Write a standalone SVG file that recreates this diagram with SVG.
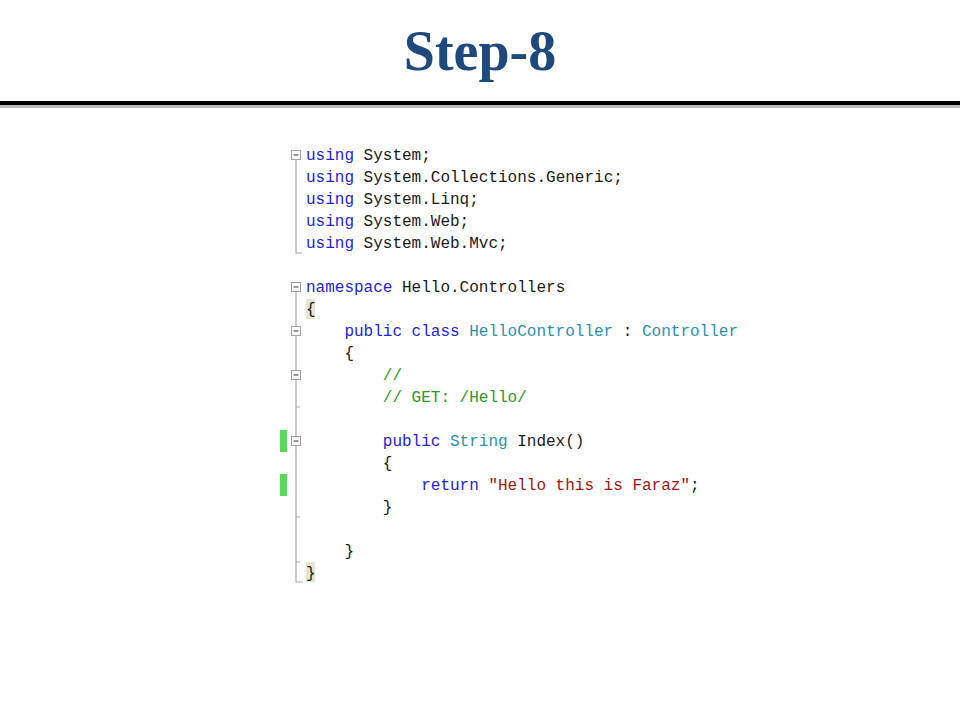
<svg xmlns="http://www.w3.org/2000/svg" width="960" height="720" viewBox="0 0 960 720">
<style>
.title{font-family:"Liberation Serif","Times New Roman",serif;font-weight:bold;font-size:56px;fill:#1F497D}
.code{font-family:"Liberation Mono","DejaVu Sans Mono",monospace;font-size:16px;fill:#1a1a1a}
.kw{fill:#2323DC}
.ty{fill:#2B91AF}
.cm{fill:#2E962E}
.st{fill:#A31515}
.gut{stroke:#A8A8A8;stroke-width:1.2;fill:none}
.box{stroke:#A0A0A0;stroke-width:1;fill:#FFFFFF}
.minus{stroke:#555555;stroke-width:1.2}
.chg{fill:#5CD65C}
.hl{fill:#E3E6D3}
</style>
<rect x="0" y="0" width="960" height="720" fill="#FFFFFF"/>
<g id="header">
<text class="title" x="480" y="70" text-anchor="middle">Step-8</text>
<rect x="0" y="105" width="960" height="3" fill="#A0A0A0" opacity="0.7"/>
<rect x="0" y="101" width="960" height="4" fill="#000000"/>
</g>
<g id="gutter">
<rect class="chg" x="280" y="430" width="7" height="22"/>
<rect class="chg" x="280" y="474" width="7" height="22"/>
<path class="gut" d="M296,160 V253 H302"/>
<path class="gut" d="M296,292 V326 M296,336 V370 M296,380 V436 M296,446 V582 H303 M296,407 H300 M296,517 H300 M296,562 H300"/>
<rect class="box" x="291.5" y="150.5" width="9" height="9"/>
<line class="minus" x1="293.5" y1="155" x2="298.5" y2="155"/>
<rect class="box" x="291.5" y="282.5" width="9" height="9"/>
<line class="minus" x1="293.5" y1="287" x2="298.5" y2="287"/>
<rect class="box" x="291.5" y="326.5" width="9" height="9"/>
<line class="minus" x1="293.5" y1="331" x2="298.5" y2="331"/>
<rect class="box" x="291.5" y="370.5" width="9" height="9"/>
<line class="minus" x1="293.5" y1="375" x2="298.5" y2="375"/>
<rect class="box" x="291.5" y="436.5" width="9" height="9"/>
<line class="minus" x1="293.5" y1="441" x2="298.5" y2="441"/>
<rect class="hl" x="306" y="299" width="9" height="20"/>
<rect class="hl" x="306" y="562" width="9" height="20"/>
</g>
<g id="code" class="code">
<text x="306" y="160"><tspan class="kw">using</tspan><tspan x="363.6">System;</tspan></text>
<text x="306" y="182"><tspan class="kw">using</tspan><tspan x="363.6">System.Collections.Generic;</tspan></text>
<text x="306" y="204"><tspan class="kw">using</tspan><tspan x="363.6">System.Linq;</tspan></text>
<text x="306" y="226"><tspan class="kw">using</tspan><tspan x="363.6">System.Web;</tspan></text>
<text x="306" y="248"><tspan class="kw">using</tspan><tspan x="363.6">System.Web.Mvc;</tspan></text>
<text x="306" y="292"><tspan class="kw">namespace</tspan><tspan x="402">Hello.Controllers</tspan></text>
<text x="306" y="314">{</text>
<text x="344.4" y="336"><tspan class="kw">public</tspan><tspan class="kw" x="411.6">class</tspan><tspan class="ty" x="469.2">HelloController</tspan><tspan x="622.8">:</tspan><tspan class="ty" x="642">Controller</tspan></text>
<text x="344.4" y="358">{</text>
<text class="cm" x="382.8" y="380">//</text>
<text class="cm" x="382.8" y="402">// GET: /Hello/</text>
<text x="382.8" y="446"><tspan class="kw">public</tspan><tspan class="ty" x="450">String</tspan><tspan x="517.2">Index()</tspan></text>
<text x="382.8" y="468">{</text>
<text x="421.2" y="490"><tspan class="kw">return</tspan><tspan class="st" x="488.4">"Hello this is Faraz"</tspan><tspan x="690">;</tspan></text>
<text x="382.8" y="512">}</text>
<text x="344.4" y="556">}</text>
<text x="306" y="578">}</text>
</g>
</svg>
